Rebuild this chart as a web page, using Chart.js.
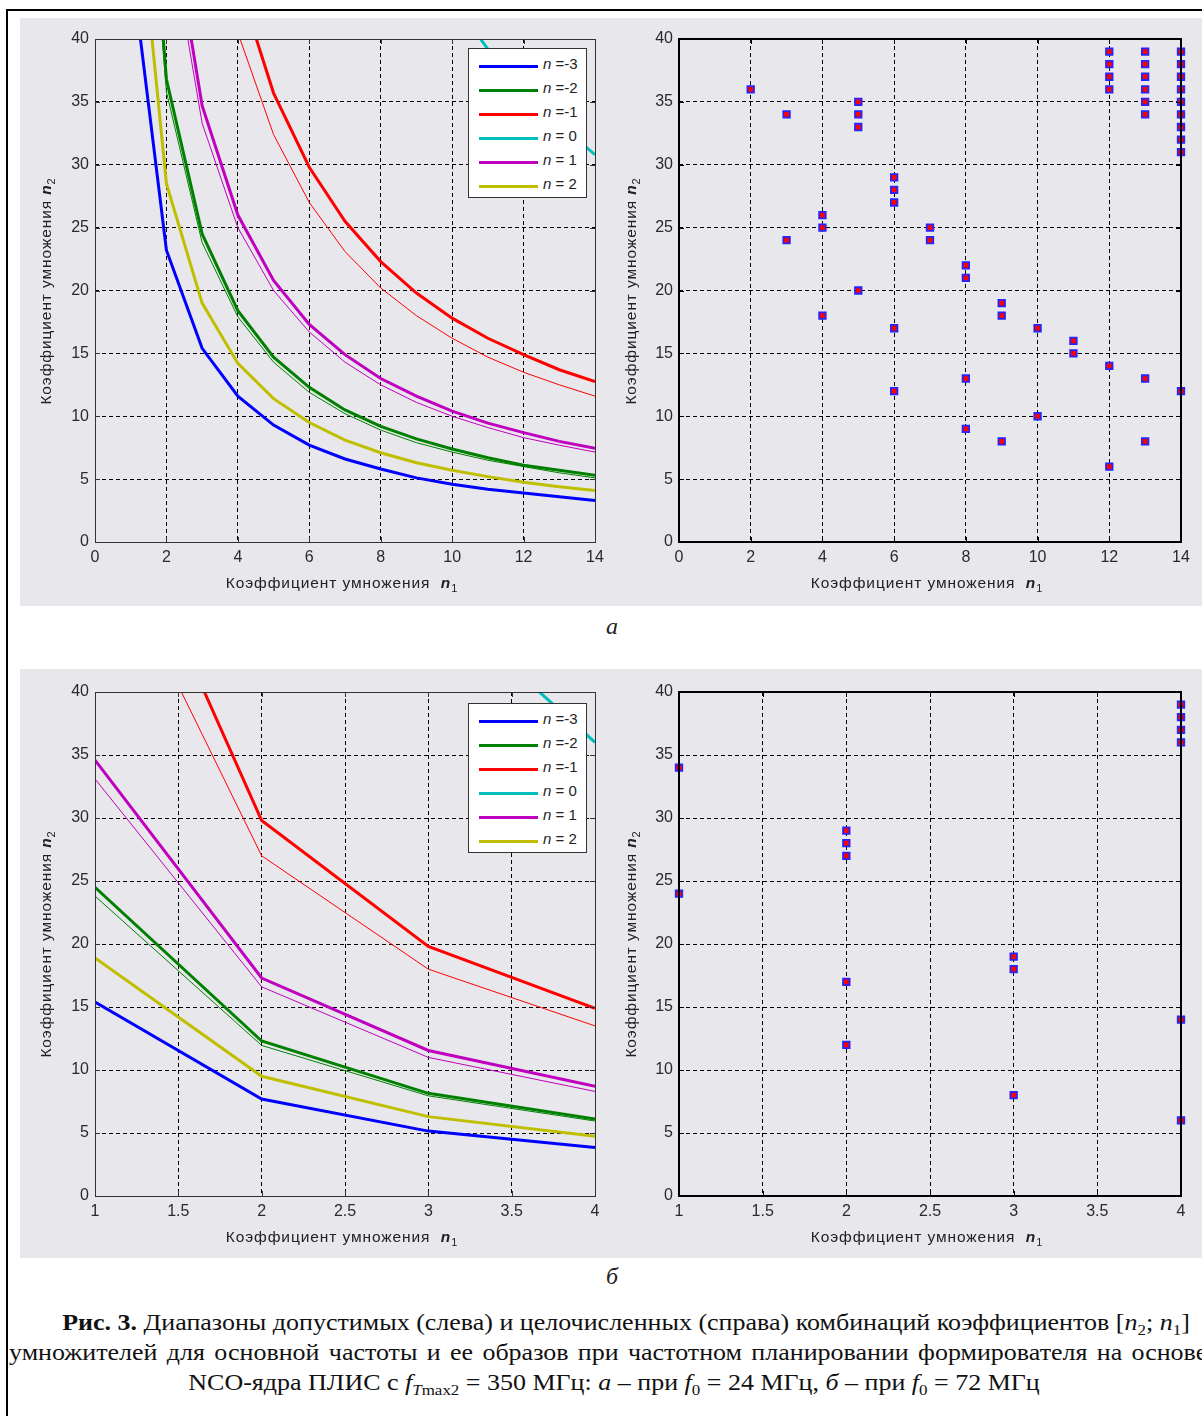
<!DOCTYPE html>
<html lang="ru">
<head>
<meta charset="utf-8">
<title>Рис. 3</title>
<script src="https://cdn.jsdelivr.net/npm/chart.js@4.4.1/dist/chart.umd.min.js"></script>
<style>
  html, body { margin: 0; padding: 0; background: #fff; }
  body { width: 1202px; height: 1416px; position: relative; overflow: hidden;
         font-family: 'Liberation Sans', Arial, sans-serif; color: #222; }
  .frame { position: absolute; left: 6px; top: 9px; width: 1400px; height: 1600px;
           border: 2px solid #000; box-sizing: border-box; }
  .panel { position: absolute; left: 20px; width: 1300px; background: #e8e7ec; }
  canvas { position: absolute; }
  .legend { position: absolute; background: #fff; border: 1px solid #333; box-sizing: border-box; }
  .legend .row { position: absolute; left: 0; height: 20px; width: 100%; }
  .legend .swatch { position: absolute; left: 10px; width: 59px; height: 3px; }
  .legend .lbl { position: absolute; left: 74px; top: -10px; font-size: 15px; white-space: pre; color: #222; }
  .ytitle, .xtitle { position: absolute; white-space: nowrap; font-size: 15.5px; color: #222; letter-spacing: 0.9px; }
  .ytitle { transform: translate(-50%, -50%) rotate(-90deg); }
  .xtitle { transform: translate(-50%, -50%); }
  .ytitle sub, .xtitle sub { font-size: 11px; vertical-align: -4px; line-height: 0; }
  .panel-tag { position: absolute; font-family: 'Liberation Serif', 'Times New Roman', serif;
               font-style: italic; font-size: 24px; transform: translate(-50%, -50%); }
  .cap { position: absolute; font-family: 'Liberation Serif', 'Times New Roman', serif;
         font-size: 23px; color: #111; white-space: nowrap; line-height: 30px;
         transform: scaleX(1.13); transform-origin: center; }
  .cap sub { font-size: 15px; vertical-align: -5px; line-height: 0; }
</style>
</head>
<body>
<div class="frame"></div>
<div class="panel" style="top:18px;height:588px"></div>
<div class="panel" style="top:669px;height:589px"></div>
<div id="plots"></div>
<div class="panel-tag" style="left:612px;top:626px">а</div>
<div class="panel-tag" style="left:612px;top:1276px">б</div>
<div class="cap" style="left:0;width:1252px;text-align:center;top:1308px"><b>Рис. 3.</b> Диапазоны допустимых (слева) и целочисленных (справа) комбинаций коэффициентов [<i>n</i><sub>2</sub>; <i>n</i><sub>1</sub>]</div>
<div class="cap" style="left:9px;top:1338px;transform-origin:left;word-spacing:2.5px">умножителей для основной частоты и ее образов при частотном планировании формирователя на основе</div>
<div class="cap" style="left:0;width:1228px;text-align:center;top:1368px">NCO-ядра ПЛИС с <i>f</i><sub><i>T</i>max2</sub> = 350 МГц: <i>а</i> – при <i>f</i><sub>0</sub> = 24 МГц, <i>б</i> – при <i>f</i><sub>0</sub> = 72 МГц</div>

<script>
'use strict';

/* ── Данные ───────────────────────────────────────────────────── */
const N_VALUES = [-3, -2, -1, 0, 1, 2];
const SERIES_COLORS = ['#0000ff', '#008000', '#ff0000', '#00bfbf', '#bf00bf', '#bfbf00'];

const Y_TICKS = [0, 5, 10, 15, 20, 25, 30, 35, 40];
const X_TICKS_A = [0, 2, 4, 6, 8, 10, 12, 14];
const X_TICKS_B = [1, 1.5, 2, 2.5, 3, 3.5, 4];

// а) f0 = 24 МГц, n1 = 1..14
const N1_A = [1, 2, 3, 4, 5, 6, 7, 8, 9, 10, 11, 12, 13, 14];
const A_BLUE         = [46.3, 23.2, 15.4, 11.6, 9.3, 7.7, 6.6, 5.8, 5.1, 4.6, 4.2, 3.9, 3.6, 3.3];
const A_GREEN        = [73.6, 36.8, 24.5, 18.4, 14.7, 12.3, 10.5, 9.2, 8.2, 7.4, 6.7, 6.1, 5.7, 5.3];
const A_GREEN_THIN   = [71.5, 35.8, 23.8, 17.9, 14.3, 11.9, 10.2, 8.9, 7.9, 7.15, 6.5, 6.0, 5.5, 5.1];
const A_RED          = [178, 89, 59.5, 44.6, 35.7, 29.8, 25.5, 22.3, 19.8, 17.8, 16.2, 14.9, 13.7, 12.75];
const A_RED_THIN     = [162, 81, 54, 40.5, 32.4, 27, 23.1, 20.2, 18, 16.2, 14.7, 13.5, 12.5, 11.6];
const A_CYAN         = [431, 215, 144, 108, 86, 72, 61.6, 53.9, 47.9, 43.1, 39.2, 35.9, 33.2, 30.8];
const A_MAGENTA      = [104, 52, 34.7, 26, 20.8, 17.3, 14.9, 13, 11.6, 10.4, 9.45, 8.7, 8.0, 7.45];
const A_MAGENTA_THIN = [100, 50, 33.3, 25, 20, 16.7, 14.3, 12.5, 11.1, 10, 9.1, 8.3, 7.7, 7.15];
const A_YELLOW       = [57, 28.5, 19.0, 14.2, 11.4, 9.5, 8.1, 7.1, 6.3, 5.7, 5.2, 4.75, 4.4, 4.1];

// б) f0 = 72 МГц, n1 = 1..4
const N1_B = [1, 2, 3, 4];
const B_BLUE         = [15.4, 7.7, 5.15, 3.85];
const B_GREEN        = [24.5, 12.3, 8.15, 6.1];
const B_GREEN_THIN   = [23.8, 11.95, 7.95, 5.95];
const B_RED          = [59.5, 29.8, 19.8, 14.9];
const B_RED_THIN     = [54, 27, 18, 13.5];
const B_CYAN         = [144, 72, 48, 36];
const B_MAGENTA      = [34.6, 17.3, 11.55, 8.7];
const B_MAGENTA_THIN = [33.1, 16.6, 11.0, 8.3];
const B_YELLOW       = [18.9, 9.5, 6.3, 4.75];

// целочисленные комбинации [n2; n1]
const INT_N1_A = [2, 3, 4, 5, 6, 7, 8, 9, 10, 11, 12, 13, 14];
const INT_N2_A = [
  [36], [34, 24], [26, 25, 18], [35, 34, 33, 20], [29, 28, 27, 17, 12], [25, 24],
  [22, 21, 13, 9], [19, 18, 8], [17, 10], [16, 15], [39, 38, 37, 36, 14, 6],
  [39, 38, 37, 36, 35, 34, 13, 8], [39, 38, 37, 36, 35, 34, 33, 32, 31, 12],
];
const INT_N1_B = [1, 2, 3, 4];
const INT_N2_B = [[34, 24], [29, 28, 27, 17, 12], [19, 18, 8], [39, 38, 37, 36, 14, 6]];

/* ── Геометрия (пиксели страницы) ─────────────────────────────── */
const PAD = { l: 70, t: 20, r: 22, b: 35 };
const BOXES = {
  aL: { left: 95,  top: 39,  right: 595,  bottom: 542 },
  aR: { left: 679, top: 39,  right: 1181, bottom: 542 },
  bL: { left: 95,  top: 692, right: 595,  bottom: 1196 },
  bR: { left: 679, top: 692, right: 1181, bottom: 1196 },
};

Chart.defaults.font.family = "'Liberation Sans', Arial, sans-serif";
Chart.defaults.font.size = 16;
Chart.defaults.color = '#2a2a2a';
Chart.defaults.animation = false;

/* Рамка осей и короткие внутренние риски, как в MATLAB */
const framePlugin = {
  id: 'frame',
  afterDatasetsDraw(chart, args, opts) {
    const { ctx, chartArea: a, scales: { x, y } } = chart;
    ctx.save();
    ctx.setLineDash([]);
    ctx.strokeStyle = opts.color;
    ctx.lineWidth = 1;
    ctx.beginPath();
    x.ticks.forEach(t => {
      const px = Math.round(x.getPixelForValue(t.value)) + 0.5;
      ctx.moveTo(px, a.bottom); ctx.lineTo(px, a.bottom - 5);
      ctx.moveTo(px, a.top); ctx.lineTo(px, a.top + 5);
    });
    y.ticks.forEach(t => {
      const py = Math.round(y.getPixelForValue(t.value)) + 0.5;
      ctx.moveTo(a.left, py); ctx.lineTo(a.left + 5, py);
      ctx.moveTo(a.right, py); ctx.lineTo(a.right - 5, py);
    });
    ctx.stroke();
    ctx.lineWidth = opts.width;
    const o = opts.width % 2 ? 0.5 : 0;
    ctx.strokeRect(a.left + o, a.top + o, a.right - a.left, a.bottom - a.top);
    ctx.restore();
  },
};

function pairs(xs, ys) {
  return xs.map((x, i) => ({ x, y: ys[i] }));
}

function lineSet(xs, ys, colorIdx, thick) {
  return {
    data: pairs(xs, ys),
    showLine: true,
    borderColor: SERIES_COLORS[colorIdx],
    borderWidth: thick ? 3 : 1,
    pointRadius: 0,
    tension: 0,
    clip: 0,
  };
}

function pointSet(xs, groups) {
  const data = [];
  xs.forEach((x, i) => groups[i].forEach(y => data.push({ x, y })));
  return {
    data,
    pointStyle: 'rect',
    pointRadius: 4.6,
    backgroundColor: '#ff0000',
    borderColor: '#2424ff',
    borderWidth: 1.8,
    clip: false,
  };
}

function makePlot(box, xTicks, datasets, frame) {
  const w = box.right - box.left + PAD.l + PAD.r;
  const h = box.bottom - box.top + PAD.t + PAD.b;
  const cv = document.createElement('canvas');
  cv.width = w; cv.height = h;
  cv.style.left = (box.left - PAD.l) + 'px';
  cv.style.top = (box.top - PAD.t) + 'px';
  cv.style.width = w + 'px'; cv.style.height = h + 'px';
  document.getElementById('plots').appendChild(cv);

  const grid = { color: '#000', lineWidth: 1, drawTicks: false };
  new Chart(cv.getContext('2d'), {
    type: 'scatter',
    data: { datasets },
    options: {
      responsive: false,
      devicePixelRatio: 1,
      layout: { padding: { top: PAD.t, right: PAD.r, left: 0, bottom: 0 } },
      plugins: { legend: { display: false }, tooltip: { enabled: false }, frame },
      scales: {
        x: {
          type: 'linear',
          min: xTicks[0], max: xTicks[xTicks.length - 1],
          grid,
          border: { display: false, dash: [4, 3] },
          ticks: { padding: 6, callback: v => String(v) },
          afterBuildTicks: s => { s.ticks = xTicks.map(v => ({ value: v })); },
          afterFit: s => { s.height = PAD.b; },
        },
        y: {
          type: 'linear',
          min: Y_TICKS[0], max: Y_TICKS[Y_TICKS.length - 1],
          grid,
          border: { display: false, dash: [4, 3] },
          ticks: { padding: 6, callback: v => String(v) },
          afterBuildTicks: s => { s.ticks = Y_TICKS.map(v => ({ value: v })); },
          afterFit: s => { s.width = PAD.l; },
        },
      },
    },
    plugins: [framePlugin],
  });
}

function addTitles(box, yCx) {
  const cx = (box.left + box.right) / 2 - 3;
  const xt = document.createElement('div');
  xt.className = 'xtitle';
  xt.style.left = cx + 'px';
  xt.style.top = (box.bottom + 41) + 'px';
  xt.innerHTML = 'Коэффициент умножения&nbsp;&nbsp;<b><i>n</i></b><sub>1</sub>';
  document.body.appendChild(xt);

  const yt = document.createElement('div');
  yt.className = 'ytitle';
  yt.style.left = yCx + 'px';
  yt.style.top = ((box.top + box.bottom) / 2) + 'px';
  yt.innerHTML = 'Коэффициент умножения <b><i>n</i></b><sub>2</sub>';
  document.body.appendChild(yt);
}

function addLegend(left, top) {
  const lg = document.createElement('div');
  lg.className = 'legend';
  lg.style.left = left + 'px';
  lg.style.top = top + 'px';
  lg.style.width = '119px';
  lg.style.height = '150px';
  N_VALUES.forEach((n, i) => {
    const row = document.createElement('div');
    row.className = 'row';
    row.style.top = (16 + i * 24) + 'px';
    const sign = n < 0 ? String(n) : ' ' + n;
    row.innerHTML = `<div class="swatch" style="background:${SERIES_COLORS[i]}"></div>` +
                    `<div class="lbl"><i>n</i> =${sign}</div>`;
    lg.appendChild(row);
  });
  document.body.appendChild(lg);
}

/* ── а: допустимые диапазоны (слева) ───────────────────────────── */
makePlot(BOXES.aL, X_TICKS_A, [
  lineSet(N1_A, A_BLUE, 0, true),
  lineSet(N1_A, A_GREEN, 1, true),
  lineSet(N1_A, A_GREEN_THIN, 1, false),
  lineSet(N1_A, A_RED, 2, true),
  lineSet(N1_A, A_RED_THIN, 2, false),
  lineSet(N1_A, A_CYAN, 3, true),
  lineSet(N1_A, A_MAGENTA, 4, true),
  lineSet(N1_A, A_MAGENTA_THIN, 4, false),
  lineSet(N1_A, A_YELLOW, 5, true),
], { color: '#333', width: 1 });
addTitles(BOXES.aL, 46);
addLegend(468, 48);

/* ── а: целочисленные комбинации (справа) ─────────────────────── */
makePlot(BOXES.aR, X_TICKS_A, [pointSet(INT_N1_A, INT_N2_A)], { color: '#000', width: 2 });
addTitles(BOXES.aR, 631);

/* ── б: допустимые диапазоны (слева) ───────────────────────────── */
makePlot(BOXES.bL, X_TICKS_B, [
  lineSet(N1_B, B_BLUE, 0, true),
  lineSet(N1_B, B_GREEN, 1, true),
  lineSet(N1_B, B_GREEN_THIN, 1, false),
  lineSet(N1_B, B_RED, 2, true),
  lineSet(N1_B, B_RED_THIN, 2, false),
  lineSet(N1_B, B_CYAN, 3, true),
  lineSet(N1_B, B_MAGENTA, 4, true),
  lineSet(N1_B, B_MAGENTA_THIN, 4, false),
  lineSet(N1_B, B_YELLOW, 5, true),
], { color: '#333', width: 1 });
addTitles(BOXES.bL, 46);
addLegend(468, 703);

/* ── б: целочисленные комбинации (справа) ─────────────────────── */
makePlot(BOXES.bR, X_TICKS_B, [pointSet(INT_N1_B, INT_N2_B)], { color: '#000', width: 2 });
addTitles(BOXES.bR, 631);
</script>
</body>
</html>
